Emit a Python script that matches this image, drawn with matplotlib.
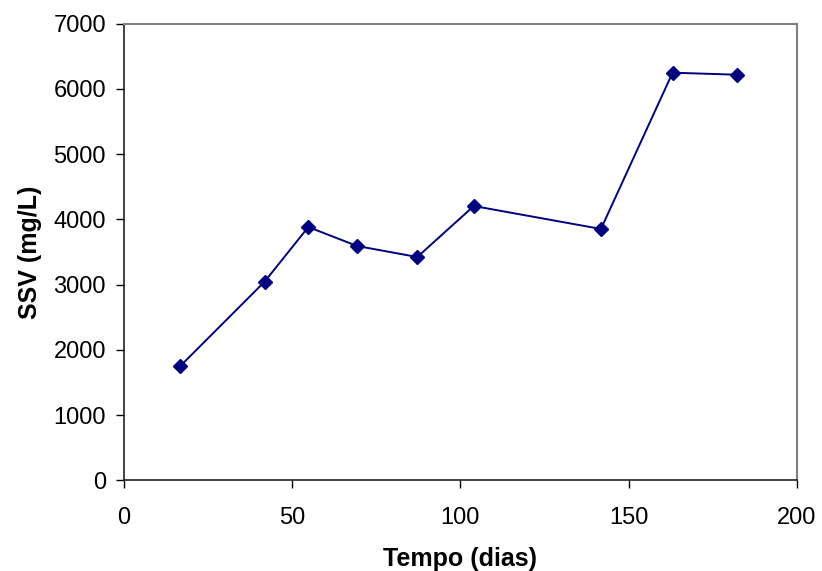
import matplotlib
matplotlib.use("Agg")
import matplotlib.pyplot as plt

dias = [16.7, 41.8, 54.8, 69.3, 87.2, 104.0, 141.8, 163.1, 182.2]
ssv = [1750, 3045, 3883, 3592, 3423, 4205, 3853, 6249, 6218]

plt.rcParams['font.family'] = ['Liberation Sans', 'DejaVu Sans']

fig = plt.figure(figsize=(8.22, 5.71), dpi=100)
ax = fig.add_axes([124/822, 1-480.3/571, (796.7-124)/822, (480.3-23.7)/571])

ax.plot(dias, ssv, color='#000080', linewidth=1.4, marker='D', markersize=7.5,
        markerfacecolor='#000080', markeredgecolor='#000080')

ax.set_xlim(0, 200)
ax.set_ylim(0, 7000)
ax.set_xticks([0, 50, 100, 150, 200])
ax.set_yticks(range(0, 7001, 1000))
ax.tick_params(direction='out', length=6, width=1, labelsize=17, colors='black')
ax.tick_params(axis='x', pad=13)
ax.tick_params(axis='y', pad=7)

for s in ['top', 'right']:
    ax.spines[s].set_color('#808080')
    ax.spines[s].set_linewidth(1.5)
for s in ['left', 'bottom']:
    ax.spines[s].set_color('#222222')
    ax.spines[s].set_linewidth(1.2)

ax.set_xlabel('Tempo (dias)', fontsize=18, fontweight='bold', labelpad=13)
ax.set_ylabel('SSV (mg/L)', fontsize=18, fontweight='bold', labelpad=8)

fig.savefig('out.png', dpi=100, facecolor='white')
